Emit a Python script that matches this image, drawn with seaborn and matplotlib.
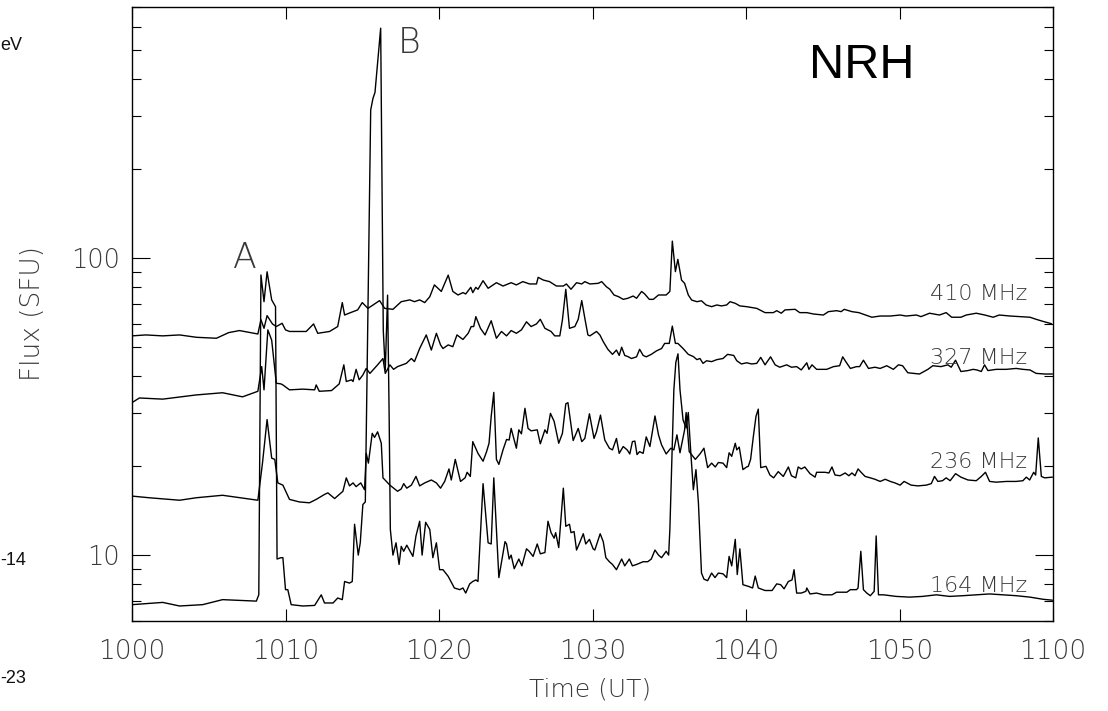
import matplotlib
matplotlib.use("Agg")
import matplotlib.pyplot as plt
import seaborn as sns
from matplotlib.ticker import FixedLocator, FixedFormatter, LogLocator, NullFormatter

# ---------------- data (minutes after 10:00 UT, flux in SFU) ----------------
time_410 = [0.0, 0.9, 2.0, 3.1, 4.2, 5.5, 6.3, 7.0, 8.2, 8.4, 8.6, 8.8, 9.15, 9.4, 9.78,
            10.0, 10.26, 11.35, 11.83, 12.1, 12.87, 13.4, 13.7, 13.85, 14.17, 14.7, 15.0, 15.37,
            16.13, 16.46, 17.0, 17.54, 18.1, 18.4, 18.74, 19.07, 19.4, 19.7, 20.04, 20.15, 20.6,
            20.9, 21.24, 21.56, 21.74, 22.07, 22.2, 22.4, 22.54, 22.87, 23.2, 23.74, 24.17, 24.7,
            25.04, 25.46, 25.9, 26.35, 26.46, 26.8, 27.2, 27.65, 28.1, 28.3, 28.6, 28.96, 29.3,
            29.5, 29.83, 30.37, 30.6, 30.9, 31.13, 31.4, 31.7, 32.0, 32.3, 32.65, 32.87, 33.2,
            33.4, 33.7, 33.96, 34.3, 34.8, 35.04, 35.2, 35.4, 35.56, 35.8, 36.0, 36.24, 36.46,
            36.8, 37.1, 37.4, 37.76, 38.1, 38.4, 38.74, 38.96, 39.3, 39.6, 40.04, 40.7, 41.24,
            41.78, 42.0, 42.3, 42.54, 43.2, 43.5, 43.96, 44.4, 45.04, 45.37, 45.9, 46.2, 46.4,
            46.9, 47.35, 47.8, 48.2, 48.74, 49.4, 50.04, 50.43, 51.1, 51.4, 51.96, 52.6, 53.04,
            53.4, 54.0, 54.35, 55.0, 55.56, 56.1, 56.5, 57.2, 57.83, 58.5, 58.9, 59.35, 59.9]
flux_410 = [54.7, 55.1, 54.7, 55.1, 54.1, 53.7, 56.1, 57.0, 55.5, 62.0, 58.0, 64.0, 60.0, 58.8, 60.3,
            57.3, 56.6, 56.6, 60.0, 55.8, 56.6, 58.8, 70.8, 64.3, 65.3, 66.9, 70.8, 67.7,
            71.9, 67.7, 67.2, 71.3, 72.3, 71.3, 72.3, 70.8, 74.1, 81.2, 78.1, 77.2, 87.6,
            77.2, 75.1, 76.5, 75.7, 79.7, 76.5, 79.7, 78.5, 83.9, 79.1, 82.6, 80.5, 82.6,
            81.2, 83.3, 81.8, 81.8, 86.1, 84.3, 83.3, 80.5, 80.5, 81.8, 78.5, 82.6, 81.8,
            83.3, 81.8, 82.2, 83.3, 80.1, 78.5, 75.1, 74.1, 72.6, 73.2, 74.5, 73.2, 77.2,
            75.7, 72.6, 72.6, 75.1, 75.1, 77.2, 114.0, 90.0, 99.0, 84.3, 82.2, 75.1, 72.2,
            71.3, 71.8, 69.5, 68.6, 69.5, 69.0, 69.5, 71.3, 70.4, 69.0, 68.6, 67.7, 65.5,
            65.5, 66.5, 65.2, 66.9, 67.2, 65.5, 65.5, 64.8, 64.3, 66.0, 66.5, 66.0, 67.2,
            66.0, 65.5, 64.3, 63.2, 63.8, 63.8, 64.3, 63.8, 64.3, 63.5, 65.2, 64.3, 65.5,
            63.2, 63.2, 64.3, 65.2, 64.3, 63.2, 64.3, 63.8, 63.5, 63.2, 62.2, 61.2, 60.1]

time_327 = [0.0, 0.48, 2.0, 4.17, 5.9, 7.2, 8.2, 8.45, 8.6, 8.85, 9.1, 9.4, 9.7, 9.83, 10.26,
            11.13, 11.9, 12.0, 12.2, 13.0, 13.5, 13.8, 13.96, 14.3, 14.4, 14.6, 14.8, 15.04,
            15.26, 15.5, 16.0, 16.35, 16.5, 16.8, 17.04, 17.3, 17.87, 18.2, 18.4, 18.74, 19.17,
            19.5, 19.83, 20.1, 20.26, 20.6, 20.9, 21.17, 21.56, 21.9, 22.1, 22.26, 22.4, 22.7,
            23.0, 23.4, 23.74, 24.07, 24.4, 24.7, 25.04, 25.37, 25.7, 26.0, 26.35, 26.6, 26.9,
            27.3, 27.54, 27.87, 28.04, 28.26, 28.5, 28.85, 29.07, 29.3, 29.5, 29.7, 29.83,
            30.26, 30.48, 30.7, 31.0, 31.3, 31.56, 31.74, 31.9, 32.1, 32.3, 32.54, 32.87, 33.07,
            33.3, 33.5, 33.83, 34.17, 34.5, 34.7, 35.0, 35.2, 35.4, 35.56, 35.9, 36.24, 36.57,
            36.8, 37.0, 37.2, 37.43, 37.76, 38.1, 38.5, 38.8, 39.2, 39.4, 39.7, 40.04, 40.37,
            40.7, 40.96, 41.24, 41.6, 41.9, 42.2, 42.65, 42.96, 43.3, 43.6, 43.96, 44.1, 44.3,
            44.6, 45.26, 45.7, 46.1, 46.3, 46.5, 46.8, 47.2, 47.4, 47.65, 47.98, 48.4, 48.74,
            49.17, 49.6, 49.93, 50.2, 50.54, 51.3, 51.85, 52.17, 52.7, 53.15, 53.37, 53.65,
            54.0, 54.46, 54.8, 55.04, 55.33, 55.54, 55.76, 56.3, 56.96, 57.6, 58.04, 58.5,
            58.9, 59.46, 59.96]
flux_327 = [32.6, 33.8, 33.5, 34.6, 35.2, 34.1, 35.6, 43.1, 36.0, 57.3, 52.9, 37.9, 37.7, 37.4, 36.0,
            36.2, 36.0, 37.4, 35.6, 35.8, 37.7, 43.7, 38.4, 38.9, 38.4, 42.2, 38.9, 40.4,
            42.5, 40.9, 43.7, 45.9, 40.9, 43.7, 42.2, 43.1, 44.2, 45.9, 44.8, 49.6, 55.1,
            49.0, 55.8, 51.0, 49.6, 51.0, 50.3, 55.1, 53.2, 55.8, 58.8, 58.8, 63.5, 58.0,
            55.1, 61.5, 53.7, 56.6, 54.7, 57.0, 55.8, 57.3, 61.0, 58.8, 60.0, 62.2, 58.0,
            56.6, 54.7, 54.7, 61.9, 78.5, 58.0, 58.8, 62.2, 71.9, 62.7, 55.1, 54.7,
            56.6, 55.1, 52.3, 49.3, 47.4, 49.0, 47.0, 50.1, 47.0, 46.6, 45.9, 46.5, 49.3,
            47.0, 46.5, 47.4, 48.7, 49.6, 51.6, 51.6, 59.0, 51.6, 51.6, 49.6, 47.4, 46.6,
            45.5, 45.9, 44.2, 45.1, 44.8, 45.5, 45.9, 47.4, 47.0, 45.1, 44.0, 44.4, 44.0,
            44.2, 46.3, 43.7, 46.5, 43.7, 42.9, 43.7, 42.9, 43.1, 42.0, 44.4, 42.2, 43.7,
            42.2, 42.2, 43.1, 43.4, 46.5, 44.8, 42.5, 43.1, 43.1, 45.3, 42.5, 42.9, 42.5,
            43.4, 42.2, 43.7, 43.4, 41.1, 40.7, 42.2, 43.4, 43.1, 43.7, 42.9, 45.3,
            41.5, 41.8, 42.2, 42.0, 41.5, 43.7, 41.8, 42.2, 42.2, 42.5, 42.2, 42.0,
            40.9, 40.7, 40.7]

time_236 = [0.0, 1.1, 3.1, 4.2, 5.9, 8.2, 8.5, 8.8, 9.1, 9.3, 9.5, 9.83, 10.26, 10.9, 11.56,
            12.0, 12.54, 12.76, 13.2, 13.74, 13.96, 14.17, 14.4, 14.6, 14.9, 15.15, 15.26, 15.4,
            15.65, 15.8, 16.0, 16.24, 16.35, 16.8, 17.3, 17.54, 17.7, 17.9, 18.2, 18.5, 18.74,
            19.07, 19.5, 19.83, 20.1, 20.37, 20.65, 20.8, 21.06, 21.4, 21.7, 21.83, 22.04, 22.2,
            22.54, 22.87, 23.1, 23.26, 23.4, 23.57, 23.74, 23.9, 24.17, 24.4, 24.57, 24.7, 25.04,
            25.2, 25.37, 25.6, 25.8, 26.0, 26.4, 26.6, 26.9, 27.04, 27.26, 27.5, 27.8, 28.04,
            28.26, 28.4, 28.74, 29.07, 29.3, 29.5, 29.8, 30.1, 30.26, 30.52, 30.8, 31.1, 31.3,
            31.56, 31.74, 32.0, 32.26, 32.43, 32.6, 32.76, 32.9, 33.07, 33.3, 33.5, 33.74, 34.07,
            34.3, 34.5, 34.8, 35.1, 35.3, 35.5, 35.7, 36.0, 36.1, 36.3, 36.7, 37.0, 37.26, 37.5,
            37.76, 38.0, 38.2, 38.5, 38.74, 38.9, 39.07, 39.3, 39.4, 39.56, 39.8, 40.04, 40.15,
            40.3, 40.48, 40.65, 40.8, 40.96, 41.13, 41.3, 41.56, 41.8, 42.1, 42.43, 42.76, 42.96,
            43.24, 43.4, 43.6, 43.83, 44.17, 44.5, 44.6, 45.15, 45.4, 45.6, 45.8, 46.13, 46.46,
            46.7, 46.9, 47.1, 47.3, 47.54, 47.76, 48.1, 48.4, 48.74, 49.07, 49.4, 49.7, 50.04,
            50.3, 50.76, 51.2, 51.74, 52.07, 52.28, 52.5, 52.8, 53.04, 53.3, 53.65, 54.0, 54.46,
            55.0, 55.33, 55.6, 55.87, 56.3, 56.96, 57.6, 58.04, 58.26, 58.48, 58.74, 58.87, 59.04,
            59.24, 59.46, 59.96]
flux_236 = [15.8, 15.6, 15.3, 15.6, 15.9, 15.3, 20.4, 28.6, 21.2, 21.0, 17.5, 17.2, 15.4, 15.1, 15.0,
            15.4, 16.0, 16.2, 15.5, 16.4, 18.2, 17.1, 17.5, 17.0, 17.5, 16.6, 22.0, 20.4,
            25.7, 24.9, 26.0, 23.8, 18.2, 17.2, 16.4, 16.7, 17.4, 16.8, 17.2, 18.4, 17.1,
            17.5, 17.9, 17.5, 16.8, 17.7, 19.5, 17.9, 21.0, 17.7, 18.2, 19.0, 18.4, 24.1,
            22.0, 20.7, 22.3, 23.8, 29.3, 35.3, 21.0, 20.2, 22.6, 24.5, 24.4, 26.7, 22.9,
            26.4, 25.6, 31.2, 26.7, 26.2, 26.4, 23.7, 26.4, 25.7, 30.0, 28.2, 23.8, 25.7,
            32.3, 32.6, 24.3, 26.7, 24.1, 24.7, 29.9, 24.7, 26.0, 29.6, 24.4, 22.9, 22.6,
            24.7, 22.0, 23.2, 22.6, 21.9, 24.1, 24.2, 21.8, 22.3, 22.0, 25.0, 23.2, 29.4,
            25.4, 23.5, 21.9, 22.9, 22.6, 25.4, 22.1, 26.4, 30.2, 22.3, 21.0, 21.9, 22.9, 19.7,
            20.4, 19.8, 20.5, 20.4, 19.7, 22.1, 21.5, 23.8, 22.6, 23.1, 19.4, 19.8, 19.9,
            21.0, 25.1, 29.3, 31.0, 19.7, 19.8, 19.9, 18.6, 18.2, 19.1, 18.4, 19.8, 18.5,
            18.2, 19.8, 19.5, 19.8, 18.8, 18.3, 19.0, 19.0, 18.9, 19.8, 18.6, 18.5, 18.9,
            18.5, 18.9, 18.5, 19.5, 18.9, 18.4, 18.2, 18.0, 17.7, 18.0, 17.7, 17.5, 17.2,
            17.7, 17.2, 17.1, 17.2, 17.4, 18.4, 17.7, 17.8, 18.2, 17.8, 18.8, 18.3, 17.9,
            17.8, 18.4, 19.0, 17.7, 17.6, 17.7, 17.7, 17.8, 18.3, 17.9, 19.0, 18.6, 24.8,
            18.4, 18.2, 18.3]

time_164 = [0.0, 2.0, 3.1, 4.6, 5.9, 8.1, 8.26, 8.4, 8.6, 8.8, 9.1, 9.35, 9.45, 9.7, 9.83,
            10.0, 10.15, 10.37, 11.13, 11.9, 12.33, 12.54, 13.1, 13.4, 13.7, 13.85, 14.17, 14.35,
            14.5, 14.74, 14.87, 15.04, 15.2, 15.55, 15.7, 15.83, 16.2, 16.37, 16.5, 16.65, 16.75,
            16.83, 17.0, 17.2, 17.4, 17.54, 17.7, 17.9, 18.3, 18.5, 18.74, 18.9, 19.13, 19.4,
            19.6, 19.83, 20.04, 20.26, 20.6, 21.0, 21.35, 21.56, 21.74, 22.0, 22.2, 22.4, 22.54,
            22.87, 23.2, 23.4, 23.57, 23.9, 24.3, 24.4, 24.57, 24.7, 24.9, 25.2, 25.4, 25.7,
            25.87, 26.13, 26.4, 26.6, 26.9, 27.1, 27.3, 27.5, 27.6, 27.8, 28.1, 28.26, 28.5,
            28.6, 28.8, 28.96, 29.13, 29.4, 29.56, 29.8, 30.04, 30.15, 30.5, 30.7, 30.87, 31.1,
            31.3, 31.56, 31.9, 32.1, 32.4, 32.6, 32.87, 33.3, 33.6, 33.83, 34.07, 34.3, 34.5,
            34.8, 34.96, 35.04, 35.15, 35.3, 35.43, 35.57, 35.7, 35.9, 36.1, 36.24, 36.4, 36.57,
            36.74, 36.9, 37.1, 37.26, 37.5, 37.76, 37.98, 38.2, 38.5, 38.74, 38.9, 39.07, 39.3,
            39.43, 39.6, 39.8, 40.15, 40.43, 40.6, 40.8, 41.24, 41.7, 42.0, 42.26, 42.48, 42.76,
            43.0, 43.13, 43.3, 43.6, 43.9, 43.96, 44.17, 44.6, 45.04, 45.6, 45.9, 46.57, 46.8,
            47.2, 47.3, 47.48, 47.65, 47.87, 48.1, 48.35, 48.48, 48.63, 48.96, 49.4, 49.78,
            50.65, 51.5, 52.4, 53.26, 54.13, 55.0, 55.87, 56.74, 57.6, 58.5, 59.35, 59.96]
flux_164 = [6.81, 6.93, 6.74, 6.81, 7.08, 7.0, 7.35, 87.7, 71.3, 89.9, 72.3, 68.6, 9.7, 9.8, 9.8,
            7.65, 7.65, 6.81, 6.74, 6.77, 7.35, 6.9, 6.9, 7.17, 7.08, 8.15, 8.05, 8.15,
            12.7, 10.0, 11.0, 14.8, 15.1, 315.0, 345.0, 361.0, 594.0, 57.0, 42.0, 75.0, 30.0,
            12.2, 10.0, 11.0, 9.3, 10.7, 10.3, 10.8, 9.9, 11.6, 13.0, 10.0, 12.9, 12.2,
            9.8, 11.0, 8.93, 8.93, 8.48, 7.75, 7.65, 7.75, 7.45, 8.0, 8.15, 8.25, 8.15,
            17.4, 11.0, 10.9, 18.2, 8.4, 11.1, 10.9, 9.7, 10.0, 9.0, 9.7, 9.2, 10.5,
            10.3, 9.9, 10.9, 10.1, 10.2, 13.0, 11.9, 11.4, 11.9, 10.6, 16.8, 12.5, 12.7,
            11.9, 12.0, 10.4, 10.9, 11.8, 10.9, 11.3, 10.5, 10.4, 11.8, 11.1, 9.8, 9.5,
            9.3, 8.93, 9.7, 9.2, 9.7, 9.2, 9.3, 9.5, 9.5, 9.7, 10.4, 10.0, 9.8,
            10.3, 10.0, 12.2, 19.4, 36.0, 44.6, 47.6, 36.0, 28.5, 26.8, 30.2, 22.3, 16.6,
            19.4, 15.0, 8.7, 8.3, 8.2, 8.7, 8.4, 8.7, 8.65, 8.4, 9.9, 9.2, 11.3,
            8.6, 10.5, 7.95, 7.85, 7.75, 8.5, 7.75, 7.6, 7.6, 8.0, 7.95, 7.7, 8.15,
            8.25, 8.93, 7.45, 7.45, 7.55, 7.75, 7.4, 7.45, 7.35, 7.35, 7.5, 7.5, 7.65,
            7.65, 7.75, 10.3, 7.65, 7.45, 7.3, 7.55, 11.6, 7.35, 7.35, 7.3, 7.26,
            7.22, 7.26, 7.35, 7.26, 7.3, 7.35, 7.4, 7.35, 7.3, 7.22, 7.1, 7.05]

freq_labels = ["410 MHz", "327 MHz", "236 MHz", "164 MHz"]
freq_label_flux = [72.2, 44.0, 19.7, 7.53]
x_tick_values = [0, 10, 20, 30, 40, 50, 60]
x_tick_labels = ["1000", "1010", "1020", "1030", "1040", "1050", "1100"]
y_major_values = [10, 100]
y_major_labels = ["10", "100"]

# ---------------- style ----------------
sns.set_style("white")
plt.rcParams["font.family"] = ["DejaVu Sans"]
TXT = "#3a3a3a"

fig = plt.figure(figsize=(11.08, 7.11), dpi=100)
ax = fig.add_axes([132 / 1108, 1 - 621 / 711, (1053 - 132) / 1108, (621 - 7) / 711])

for t, f in [(time_410, flux_410), (time_327, flux_327), (time_236, flux_236), (time_164, flux_164)]:
    sns.lineplot(x=t, y=f, ax=ax, color="black", linewidth=1.0,
                 estimator=None, sort=False, legend=False)

ax.set_yscale("log")
ax.set_xlim(0, 60)
ax.set_ylim(6.0, 700)

for s in ax.spines.values():
    s.set_visible(True)
    s.set_color("black")
    s.set_linewidth(1.0)

ax.xaxis.set_major_locator(FixedLocator(x_tick_values))
ax.xaxis.set_major_formatter(FixedFormatter(x_tick_labels))
ax.xaxis.set_minor_locator(FixedLocator([]))
ax.yaxis.set_major_locator(FixedLocator(y_major_values))
ax.yaxis.set_major_formatter(FixedFormatter(y_major_labels))
ax.yaxis.set_minor_locator(LogLocator(base=10, subs=(2, 3, 4, 5, 6, 7, 8, 9)))
ax.yaxis.set_minor_formatter(NullFormatter())

ax.tick_params(axis="x", which="major", direction="in", length=8.6, width=0.8,
               top=True, bottom=True, labelsize=19, labelcolor=TXT, pad=13, color="black")
ax.tick_params(axis="y", which="major", direction="in", length=13, width=0.8,
               left=True, right=True, labelsize=18.5, labelcolor=TXT, pad=9, color="black")
ax.tick_params(axis="y", which="minor", direction="in", length=6.5, width=0.8,
               left=True, right=True, color="black")
for lbl in ax.get_xticklabels() + ax.get_yticklabels():
    lbl.set_fontweight("light")

ax.set_xlabel("Time (UT)", fontsize=18, color=TXT, fontweight="light")
ax.xaxis.set_label_coords(0.497, -0.092)
ax.xaxis.label.set_va("top")
ax.set_ylabel("Flux (SFU)", fontsize=19, color=TXT, fontweight="light")
ax.yaxis.set_label_coords(-0.095, 0.5)

# annotations
ax.text(7.36, 92.6, "A", fontsize=25, color=TXT, ha="center", va="baseline", fontweight="light")
ax.text(18.05, 489, "B", fontsize=25, color=TXT, ha="center", va="baseline", fontweight="light")
ax.text(0.7926, 0.884, "NRH", transform=ax.transAxes, fontsize=35, color="black",
        ha="center", va="baseline", family="Liberation Sans")
for lab, yv in zip(freq_labels, freq_label_flux):
    ax.text(58.3, yv, lab, fontsize=16, color=TXT, ha="right", va="baseline", fontweight="light")

# fragments of a neighbouring panel cut at the left edge
fig.text(0.5 / 1108, 1 - 50 / 711, "eV", fontsize=13, color="#111111", ha="left", va="baseline",
         family="Liberation Sans")
fig.text(0.5 / 1108, 1 - 565 / 711, "-14", fontsize=13, color="#111111", ha="left", va="baseline",
         family="Liberation Sans")
fig.text(0.5 / 1108, 1 - 683 / 711, "-23", fontsize=13, color="#111111", ha="left", va="baseline",
         family="Liberation Sans")

fig.savefig("out.png", dpi=100)
